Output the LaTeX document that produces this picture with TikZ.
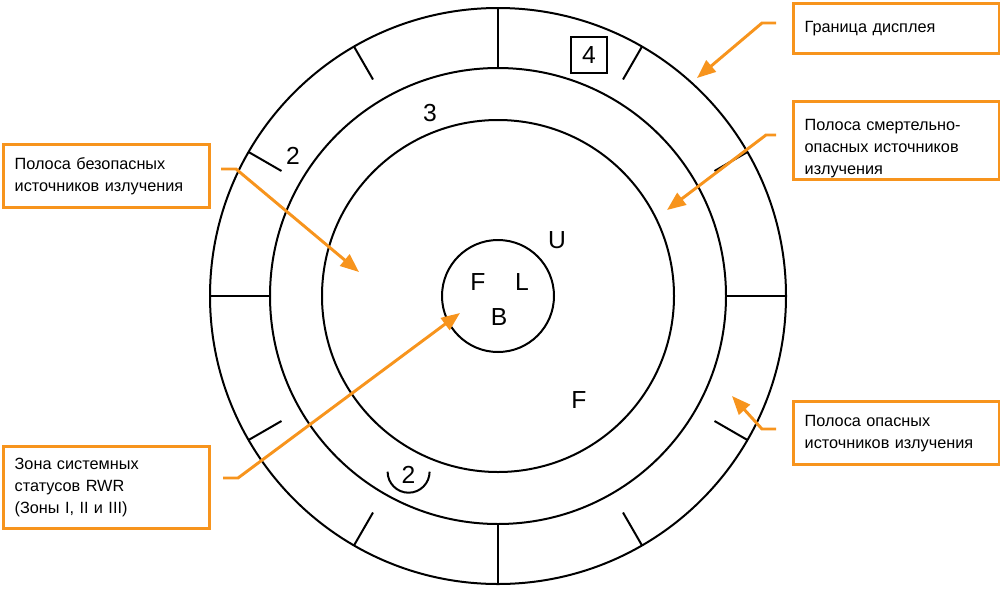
\documentclass[tikz,border=0pt]{standalone}
\usepackage{fontspec}
\setmainfont{Liberation Sans}
\usetikzlibrary{arrows.meta}
\definecolor{org}{RGB}{247,148,29}
\begin{document}
\begin{tikzpicture}[x=0.75pt,y=-0.75pt,
  ring/.style={draw=black, line width=1.5pt},
  callout/.style={draw=org, line width=2.5pt, anchor=north west, align=left,
    inner xsep=8.25pt, inner ysep=0pt, text width=138pt,
    font=\fontsize{12.2}{16.5}\selectfont},
  pointer/.style={draw=org, line width=2.2pt, -{Triangle[length=14pt,width=11pt]}},
  lbl/.style={inner sep=0pt, font=\fontsize{18.5}{20}\selectfont}]
\useasboundingbox (0,0) rectangle (1000,590);
\coordinate (c) at (498,296);
% rings
\draw[ring] (c) circle[radius=216pt];
\draw[ring] (c) circle[radius=171pt];
\draw[ring] (c) circle[radius=132pt];
\draw[ring] (c) circle[radius=42pt];
\begin{scope}[shift={(c)}]
  \foreach \a in {0,90,180,270} \draw[ring] (\a:216pt) -- (\a:171pt);
  \foreach \a in {30,60,120,150,210,240,300,330} \draw[ring] (\a:216pt) -- (\a:187.5pt);
\end{scope}
% symbols
\node[lbl] (n2) at (293,156) {2};
\node[lbl] (n3) at (430,113) {3};
\node[lbl, draw=black, line width=1.3pt, minimum size=27pt] (n4) at (589,55) {4};
\node[lbl] (nU) at (557,240) {U};
\node[lbl] (nF) at (478,282) {F};
\node[lbl] (nL) at (522,282) {L};
\node[lbl] (nB) at (499,317) {B};
\node[lbl] (nF2) at (579,400) {F};
\node[lbl] (nc2) at (408.6,475) {2};
\draw[ring] (387.6,471.7) arc[start angle=180, end angle=360, radius=15.75pt];
% callout boxes
\node[callout, minimum height=37.5pt] (b1) at (792,2) {Граница дисплея};
\node[callout, minimum height=58.5pt] (b2) at (792,100) {\rule{0pt}{20pt}Полоса смертельно-\\опасных источников\\излучения};
\node[callout, minimum height=47.25pt] (b5) at (792,400) {Полоса опасных\\источников излучения};
\node[callout, minimum height=47.25pt] (b3) at (2,143) {Полоса безопасных\\источников излучения};
\node[callout, minimum height=61.5pt] (b4) at (2,445) {Зона системных\\статусов RWR\\(Зоны I, II и III)};
% pointer geometry
\coordinate (s1a) at (776,23); \coordinate (s1b) at (762,23); \coordinate (t1) at (697,78);
\coordinate (s2a) at (776,135); \coordinate (s2b) at (766,135); \coordinate (t2) at (667,210);
\coordinate (s5a) at (776,429); \coordinate (s5b) at (762,429); \coordinate (t5) at (732,396);
\coordinate (s3a) at (221,169); \coordinate (s3b) at (236,169); \coordinate (t3) at (359,272);
\coordinate (s4a) at (223,478); \coordinate (s4b) at (238,478); \coordinate (t4) at (460,313);
\draw[pointer] (s1a) -- (s1b) -- (t1);
\draw[pointer] (s2a) -- (s2b) -- (t2);
\draw[pointer] (s5a) -- (s5b) -- (t5);
\draw[pointer] (s3a) -- (s3b) -- (t3);
\draw[pointer] (s4a) -- (s4b) -- (t4);
\end{tikzpicture}
\end{document}
